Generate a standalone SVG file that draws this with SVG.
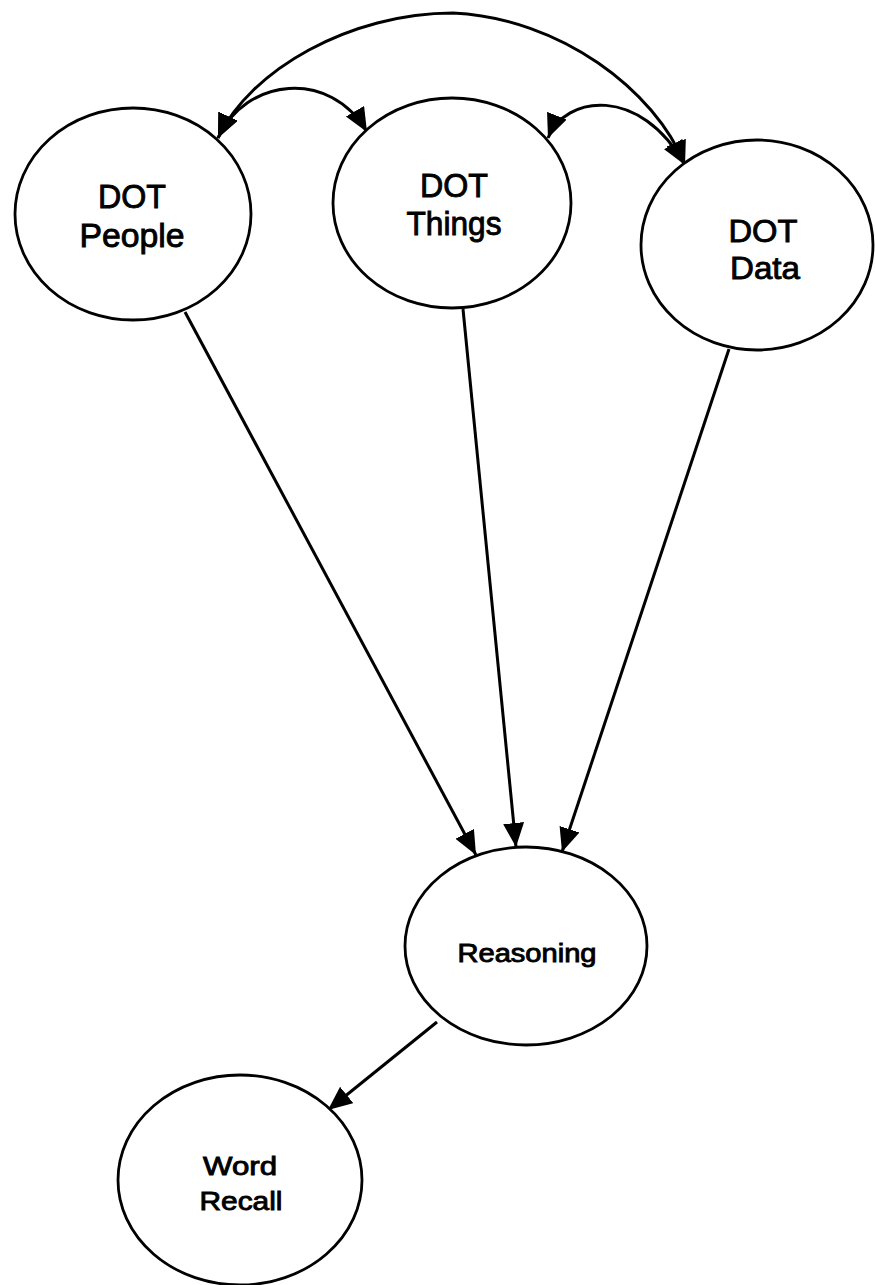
<svg xmlns="http://www.w3.org/2000/svg" width="875" height="1285" viewBox="0 0 875 1285">
  <style>
    .node ellipse { fill: #fff; stroke: #000; stroke-width: 2.8; }
    .node text { font-family: "Liberation Sans", Arial, sans-serif; fill: #000; stroke: #000; stroke-width: 0.9; text-anchor: middle; }
    .edge { fill: none; stroke: #000; stroke-width: 3; }
    .arrow { marker-end: url(#head); }
    .both { marker-start: url(#head); marker-end: url(#head); }
  </style>
  <defs>
    <marker id="head" markerUnits="userSpaceOnUse" markerWidth="26" markerHeight="22" refX="24" refY="10.5" orient="auto-start-reverse" viewBox="0 0 26 22">
      <path d="M0,0 L24,10.5 L0,21 Z" fill="#000"/>
    </marker>
  </defs>
  <rect width="875" height="1285" fill="#fff"/>

  <g id="connectors">
    <!-- correlations between the DOT factors -->
    <path class="edge both" d="M218,138 C250,70 350,13 453,13 C560,18 655,90 685,165"/>
    <path class="edge both" d="M218,138 C245,78 330,68 367,132"/>
    <path class="edge both" d="M548,138 C565,95 640,85 685,165"/>
    <!-- paths into Reasoning -->
    <path class="edge arrow" d="M185,312 L476,855"/>
    <path class="edge arrow" d="M463,309 L516,847"/>
    <path class="edge arrow" d="M729,349 L562,852"/>
    <!-- Reasoning to Word Recall -->
    <path class="edge arrow" d="M437,1022 L328,1110"/>
  </g>

  <g id="dot-people" class="node">
    <ellipse cx="133" cy="214" rx="118" ry="106"/>
    <text x="132" y="208" font-size="34" textLength="68" lengthAdjust="spacingAndGlyphs">DOT</text>
    <text x="132" y="247" font-size="34" textLength="105" lengthAdjust="spacingAndGlyphs">People</text>
  </g>

  <g id="dot-things" class="node">
    <ellipse cx="452" cy="203" rx="119" ry="105"/>
    <text x="454" y="197" font-size="33" textLength="68" lengthAdjust="spacingAndGlyphs">DOT</text>
    <text x="454" y="235" font-size="33" textLength="95" lengthAdjust="spacingAndGlyphs">Things</text>
  </g>

  <g id="dot-data" class="node">
    <ellipse cx="757" cy="245" rx="116" ry="105"/>
    <text x="763" y="242" font-size="32" textLength="69" lengthAdjust="spacingAndGlyphs">DOT</text>
    <text x="765" y="279" font-size="32" textLength="70" lengthAdjust="spacingAndGlyphs">Data</text>
  </g>

  <g id="reasoning" class="node">
    <ellipse cx="526" cy="946" rx="121" ry="99"/>
    <text x="527" y="962" font-size="25" textLength="139" lengthAdjust="spacingAndGlyphs">Reasoning</text>
  </g>

  <g id="word-recall" class="node">
    <ellipse cx="240" cy="1180" rx="122" ry="105"/>
    <text x="240" y="1175" font-size="26" textLength="74" lengthAdjust="spacingAndGlyphs">Word</text>
    <text x="241" y="1210" font-size="26" textLength="83" lengthAdjust="spacingAndGlyphs">Recall</text>
  </g>
</svg>
